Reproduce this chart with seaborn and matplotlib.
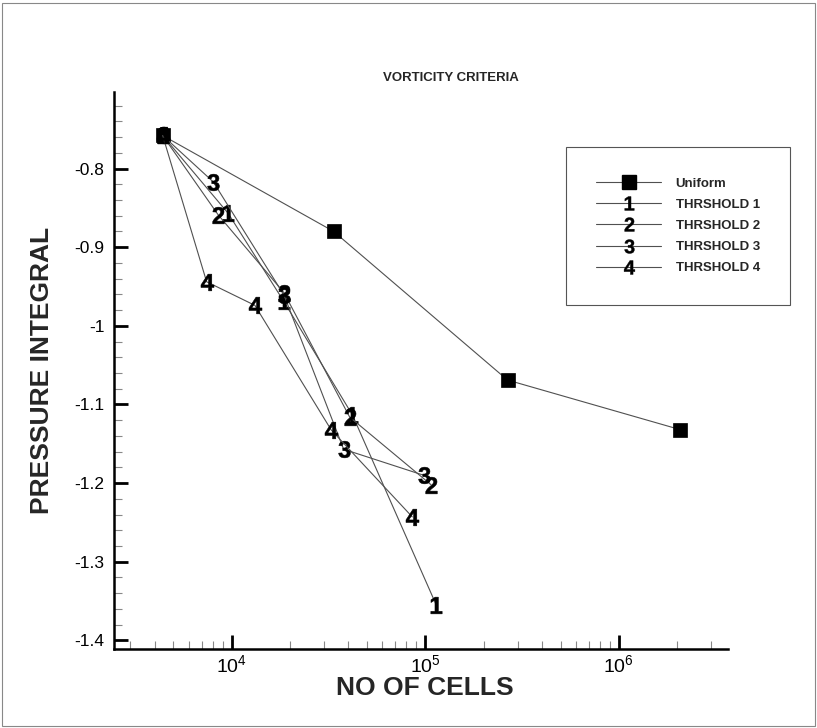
import numpy as np
import pandas as pd
import matplotlib
matplotlib.use("Agg")
import matplotlib.pyplot as plt
import seaborn as sns
from matplotlib.lines import Line2D
from matplotlib.patches import Rectangle
from matplotlib.ticker import FixedLocator, LogLocator, MultipleLocator, NullFormatter

# ---------------- data ----------------
uniform_cells = [4405, 33650, 266000, 2070000]
uniform_p = [-0.758, -0.880, -1.069, -1.132]

t1_cells = [4405, 9600, 18600, 42100, 114000]
t1_p = [-0.758, -0.857, -0.969, -1.1135, -1.355]
t2_cells = [4405, 8530, 18650, 40700, 107000]
t2_p = [-0.758, -0.859, -0.958, -1.116, -1.202]
t3_cells = [4405, 8040, 18650, 37900, 98000]
t3_p = [-0.758, -0.817, -0.961, -1.157, -1.190]
t4_cells = [4405, 7430, 13190, 32700, 85700]
t4_p = [-0.758, -0.944, -0.974, -1.1325, -1.243]

threshold_names = ["THRSHOLD 1", "THRSHOLD 2", "THRSHOLD 3", "THRSHOLD 4"]
threshold_symbols = ["1", "2", "3", "4"]
uniform_name = "Uniform"

x_ticks = [1e4, 1e5, 1e6]
x_tick_labels = ["$10^{4}$", "$10^{5}$", "$10^{6}$"]
y_ticks = [-1.4, -1.3, -1.2, -1.1, -1.0, -0.9, -0.8]
y_tick_labels = ["-1.4", "-1.3", "-1.2", "-1.1", "-1", "-0.9", "-0.8"]

title = "VORTICITY CRITERIA"
x_label = "NO OF CELLS"
y_label = "PRESSURE INTEGRAL"

# ---------------- style ----------------
sns.set_theme(style="white")
plt.rcParams["font.family"] = ["Liberation Sans", "DejaVu Sans"]
plt.rcParams["mathtext.fontset"] = "custom"
plt.rcParams["mathtext.rm"] = "Liberation Sans"
plt.rcParams["mathtext.it"] = "Liberation Sans:italic"
plt.rcParams["mathtext.bf"] = "Liberation Sans:bold"

line_color = "#505050"

thr = pd.concat([
    pd.DataFrame({"cells": xs, "p": ys, "series": n})
    for n, xs, ys in zip(threshold_names, [t1_cells, t2_cells, t3_cells, t4_cells],
                         [t1_p, t2_p, t3_p, t4_p])
], ignore_index=True)
uni = pd.DataFrame({"cells": uniform_cells, "p": uniform_p, "series": uniform_name})

digit_markers = {n: r"$\mathbf{%s}$" % s for n, s in zip(threshold_names, threshold_symbols)}

fig = plt.figure(figsize=(8.17, 7.28), dpi=100)
ax = fig.add_axes([114 / 817, 1 - 649 / 728, 614 / 817, 557 / 728])
ax.set_xscale("log")

sns.lineplot(data=uni, x="cells", y="p", color=line_color, lw=0.8,
             marker="s", markersize=10, markerfacecolor="black",
             markeredgecolor="black", markeredgewidth=0.5,
             sort=False, estimator=None, legend=False, ax=ax)

sns.lineplot(data=thr, x="cells", y="p", hue="series", style="series",
             palette=[line_color] * 4, markers=digit_markers, dashes=False,
             markersize=12, markerfacecolor="black", markeredgecolor="black",
             markeredgewidth=0.4, lw=0.8, sort=False, estimator=None,
             legend=False, ax=ax)

ax.set_xlim(2470, 3.66e6)
ax.set_ylim(-1.411, -0.7027)

ax.xaxis.set_major_locator(FixedLocator(x_ticks))
ax.set_xticklabels(x_tick_labels)
ax.xaxis.set_minor_locator(LogLocator(base=10, subs=np.arange(2, 10)))
ax.xaxis.set_minor_formatter(NullFormatter())
ax.yaxis.set_major_locator(FixedLocator(y_ticks))
ax.set_yticklabels(y_tick_labels)
ax.yaxis.set_minor_locator(MultipleLocator(0.02))

ax.tick_params(which="major", direction="in", length=10, width=2, color="black",
               labelcolor="black")
ax.tick_params(axis="y", which="major", pad=7, labelsize=12.5)
ax.tick_params(axis="x", which="major", pad=4, labelsize=14)
ax.tick_params(which="minor", direction="in", length=6, width=0.8, color="#888888")
ax.tick_params(left=True, bottom=True, which="both")

for s in ["top", "right"]:
    ax.spines[s].set_visible(False)
for s in ["left", "bottom"]:
    ax.spines[s].set_linewidth(1.8)
    ax.spines[s].set_color("black")

ax.set_xlabel(x_label, fontsize=19, fontweight="bold", va="center")
ax.xaxis.set_label_coords(0.5065, (649 - 688) / 557)
ax.set_ylabel(y_label, fontsize=19, fontweight="bold", va="center")
ax.yaxis.set_label_coords((42 - 114) / 614, 0.5)

fig.text(451 / 817, 1 - 78 / 728, title, ha="center", va="center",
         fontsize=9.5, fontweight="bold")

# legend
handles = [Line2D([], [], color=line_color, lw=0.8, marker="s", markersize=9.5,
                  markerfacecolor="black", markeredgecolor="black")]
for n in threshold_names:
    handles.append(Line2D([], [], color=line_color, lw=0.8, marker=digit_markers[n],
                          markersize=10, markerfacecolor="black",
                          markeredgecolor="black", markeredgewidth=0.3))
labels = [uniform_name] + threshold_names
leg = fig.legend(handles, labels, loc="upper left",
                 bbox_to_anchor=(566 / 817, 1 - 147 / 728),
                 frameon=True, fancybox=False, edgecolor="#555555", framealpha=1,
                 prop=dict(weight="bold", size=9.5), handlelength=4.9,
                 handletextpad=1.1, labelspacing=0.68, borderpad=2.3,
                 borderaxespad=0)
leg.get_frame().set_linewidth(0.8)

fig.add_artist(Rectangle((0.003, 0.003), 0.994, 0.993, transform=fig.transFigure,
                         fill=False, edgecolor="#888888", lw=0.8))

fig.savefig("out.png", dpi=100)
